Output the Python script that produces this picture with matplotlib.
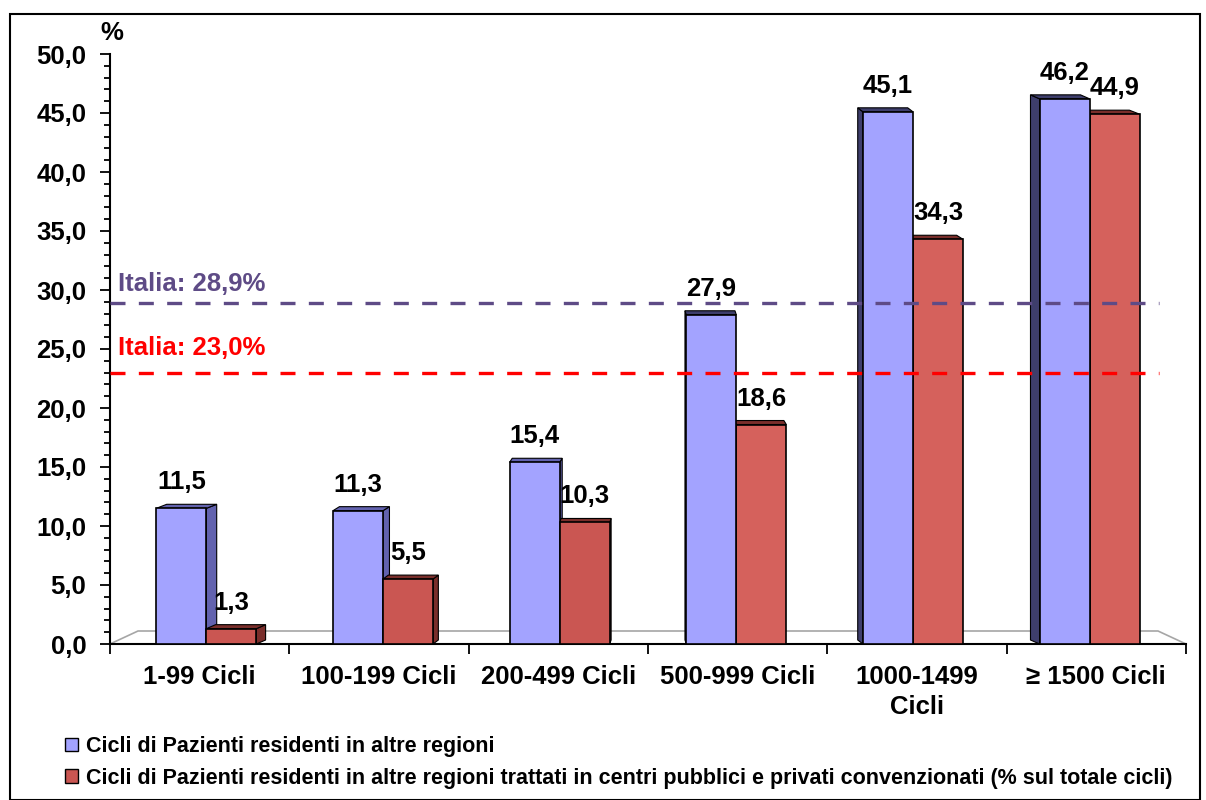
import matplotlib
matplotlib.use("Agg")
import matplotlib.pyplot as plt
import numpy as np
from matplotlib.patches import Rectangle, Patch, Polygon

plt.rcParams['font.family'] = ['Liberation Sans', 'DejaVu Sans']
plt.rcParams['font.weight'] = 'bold'

categories = ["1-99 Cicli", "100-199 Cicli", "200-499 Cicli", "500-999 Cicli", "1000-1499\nCicli", "≥ 1500 Cicli"]
altre_regioni = [11.5, 11.3, 15.4, 27.9, 45.1, 46.2]
pubblici_privati = [1.3, 5.5, 10.3, 18.6, 34.3, 44.9]
series_names = ["Cicli di Pazienti residenti in altre regioni",
                "Cicli di Pazienti residenti in altre regioni trattati in centri pubblici e privati convenzionati (% sul totale cicli)"]
italia_1 = 28.9
italia_2 = 23.0

blue = "#a3a3ff"
blue_side_l = "#6262ae"
blue_side_r = "#3e3e6c"
red = "#ca5652"
red_right = "#d5615c"
red_side = "#7a2e2b"

W, H = 1206, 800
fig = plt.figure(figsize=(W / 100, H / 100), dpi=100)
ax_l, ax_b, ax_w, ax_h = 110 / W, 1 - 644 / H, 1076 / W, 590 / H
ax = fig.add_axes([ax_l, ax_b, ax_w, ax_h])

n = len(categories)
ax.set_xlim(-0.5, n - 0.5)
ax.set_ylim(0, 50)
px_x = (ax_w * W) / n      # pixels per category unit
px_y = (ax_h * H) / 50.0   # pixels per value unit

x = np.arange(n)
centre = (n - 1) / 2
xb = centre + (x - centre) * 0.985   # slight perspective compression
w = 50 / px_x

# floor (3D base)
fx0, fx1 = -0.5, n - 0.5
fdx = 28 / px_x
fdy = 13 / px_y
ax.add_patch(Polygon([(fx0, 0), (fx0 + fdx, fdy), (fx1 - fdx, fdy), (fx1, 0)], closed=False,
                     fill=False, edgecolor="#a6a6a6", linewidth=1.2, zorder=1, clip_on=False))

def bar3d(xc, h, color, side_color):
    left, right = xc - w / 2, xc + w / 2
    cx_px = 110 + (xc + 0.5) * px_x
    dx = (650 - cx_px) * 0.022 / px_x
    dy = 4 / px_y
    if dx > 0:
        ax.add_patch(Polygon([(right, 0), (right, h), (right + dx, h + dy), (right + dx, dy)],
                             facecolor=side_color, edgecolor="black", linewidth=0.8, zorder=2))
    elif dx < 0:
        ax.add_patch(Polygon([(left, 0), (left, h), (left + dx, h + dy), (left + dx, dy)],
                             facecolor=side_color, edgecolor="black", linewidth=0.8, zorder=2))
    ax.add_patch(Polygon([(left, h), (left + dx, h + dy), (right + dx, h + dy), (right, h)],
                         facecolor=side_color, edgecolor="black", linewidth=0.8, zorder=2))
    ax.add_patch(Rectangle((left, 0), w, h, facecolor=color, edgecolor="black", linewidth=1.2, zorder=3))

for i in range(n):
    if xb[i] < centre:
        bar3d(xb[i] - w / 2, altre_regioni[i], blue, blue_side_l)
        bar3d(xb[i] + w / 2, pubblici_privati[i], red, red_side)
    else:
        bar3d(xb[i] + w / 2, pubblici_privati[i], red_right, red_side)
        bar3d(xb[i] - w / 2, altre_regioni[i], blue, blue_side_r)

def fmt(v):
    return f"{v:.1f}".replace(".", ",")

off = 14 / px_y
for i, (a, b) in enumerate(zip(altre_regioni, pubblici_privati)):
    ax.text(xb[i] - w / 2, a + off, fmt(a), ha="center", va="bottom", fontsize=18.5, fontweight="bold", zorder=5)
    ax.text(xb[i] + w / 2, b + off, fmt(b), ha="center", va="bottom", fontsize=18.5, fontweight="bold", zorder=5)

ax.plot([-0.5, 5.35], [italia_1, italia_1], color="#5e4b86", linestyle=(0, (4.5, 4)), linewidth=2.4, zorder=4)
ax.plot([-0.5, 5.35], [italia_2, italia_2], color="#ff0000", linestyle=(0, (4.5, 4)), linewidth=2.4, zorder=4)
ax.text(-0.455, italia_1 + 0.55, "Italia: " + fmt(italia_1) + "%", color="#5e4b86", fontsize=18.5,
        fontweight="bold", va="bottom", zorder=5)
ax.text(-0.455, italia_2 + 1.05, "Italia: " + fmt(italia_2) + "%", color="#ff0000", fontsize=18.5,
        fontweight="bold", va="bottom", zorder=5)

yt = np.arange(0, 50.1, 5)
ax.set_yticks(yt)
ax.set_yticklabels([fmt(v) for v in yt], fontsize=18.5, fontweight="bold")
ax.set_yticks(np.arange(0, 50.1, 1), minor=True)
ax.tick_params(axis="y", which="major", length=7, width=1.3, pad=10)
ax.tick_params(axis="y", which="minor", length=4, width=1.3)
ax.set_xticks(x)
ax.set_xticklabels(categories, fontsize=18.5, fontweight="bold", va="top", linespacing=1.3)
ax.set_xticks(np.arange(-0.5, n, 1), minor=True)
ax.tick_params(axis="x", which="major", length=0, pad=15)
ax.tick_params(axis="x", which="minor", length=7, width=1.3)

for s in ["top", "right"]:
    ax.spines[s].set_visible(False)
ax.spines["left"].set_linewidth(1.5)
ax.spines["bottom"].set_linewidth(1.5)

ax.text(-0.49, 51.8, "%", fontsize=18.5, fontweight="bold", ha="center", va="center", clip_on=False)

handles = [Patch(facecolor=blue, edgecolor="black"), Patch(facecolor=red, edgecolor="black")]
fig.legend(handles, series_names, loc="upper left", bbox_to_anchor=(0.054, 1 - 736 / H), frameon=False,
           prop={"weight": "bold", "size": 15.5}, handlelength=0.6, handleheight=0.6,
           handletextpad=0.35, labelspacing=0.5, borderaxespad=0, borderpad=0)

fig.patches.append(Rectangle((10 / W, 0.0), 1190 / W, 1 - 14 / H, transform=fig.transFigure,
                             fill=False, edgecolor="black", linewidth=1.5))

fig.savefig("out.png", dpi=100, facecolor="white")
